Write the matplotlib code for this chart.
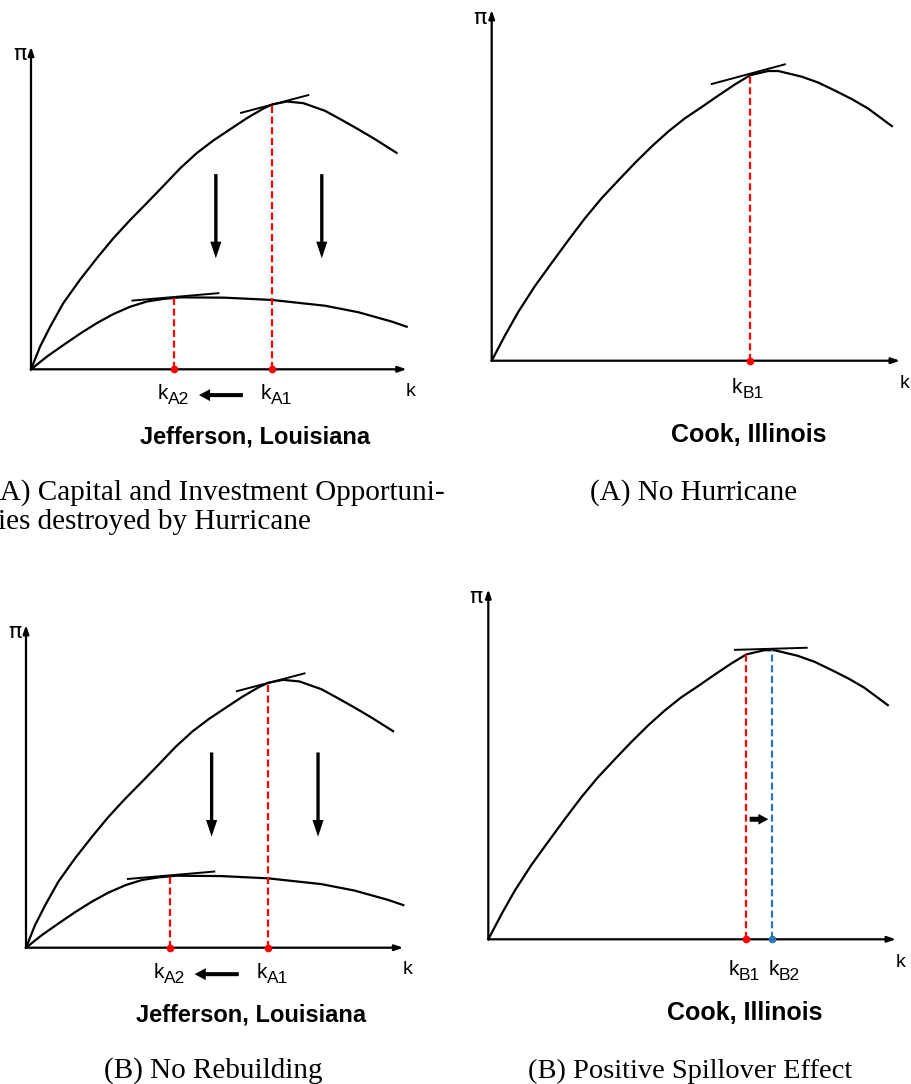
import matplotlib
matplotlib.use("Agg")
import matplotlib.pyplot as plt
from matplotlib.transforms import offset_copy

plt.rcParams['font.family'] = ['Liberation Sans', 'DejaVu Sans']

FIG_W, FIG_H = 911, 1084
RED = '#FF0000'
BLUE = '#2E75B6'

# Jefferson, Louisiana: profit (pi) against capital (k), before / after the hurricane
jeff_k_before = [0, 0.24, 0.51, 0.86, 1.30, 1.75, 2.19, 2.64, 3.08, 3.52, 3.97, 4.41,
                 4.85, 5.30, 5.74, 6.18, 6.42, 6.81, 7.25, 7.83, 8.27, 8.71, 9.16, 9.73]
jeff_pi_before = [0, 0.70, 1.32, 2.05, 2.77, 3.44, 4.06, 4.63, 5.15, 5.68, 6.23, 6.70,
                  7.09, 7.44, 7.78, 8.08, 8.21, 8.30, 8.25, 8.01, 7.73, 7.44, 7.13, 6.71]
jeff_k_after = [0, 0.42, 0.86, 1.30, 1.75, 2.19, 2.64, 3.08, 3.52, 3.97, 5.16,
                6.41, 7.83, 8.71, 9.60, 10.0]
jeff_pi_after = [0, 0.39, 0.75, 1.10, 1.43, 1.71, 1.94, 2.10, 2.18, 2.23, 2.22,
                 2.15, 1.97, 1.77, 1.48, 1.32]
k_A1, pi_A1 = 6.42, 8.21
k_A2, pi_A2 = 3.81, 2.21
tan_A1_k, tan_A1_pi = [5.59, 7.38], [7.95, 8.50]
tan_A2_k, tan_A2_pi = [2.70, 4.99], [2.13, 2.36]
shock_arrow_k = [4.92, 7.74]
shock_arrow_pi = [6.05, 3.44]

# Cook, Illinois: profit against capital
cook_k = [0, 0.33, 0.65, 1.06, 1.47, 1.88, 2.29, 2.69, 3.10, 3.51, 3.92, 4.33, 4.73,
          5.14, 5.55, 5.96, 6.33, 6.77, 7.02, 7.59, 8.00, 8.41, 8.82, 9.22, 9.80]
cook_pi = [0, 0.73, 1.39, 2.13, 2.79, 3.44, 4.07, 4.63, 5.14, 5.64, 6.11, 6.54, 6.91,
           7.23, 7.56, 7.88, 8.14, 8.26, 8.26, 8.10, 7.93, 7.70, 7.46, 7.19, 6.69]
k_B1, pi_B1 = 6.33, 8.14
k_B2, pi_B2 = 6.95, 8.27
tan_B1_k, tan_B1_pi = [5.39, 7.18], [7.89, 8.45]
tan_B2_k, tan_B2_pi = [6.05, 7.81], [8.27, 8.33]
spill_arrow_k = [6.41, 6.87]
spill_arrow_pi = 3.43

# bold region names and the captions under each panel
region_jeff = 'Jefferson, Louisiana'
region_cook = 'Cook, Illinois'
caption_a_left = ['(A) Capital and Investment Opportuni-', 'ties destroyed by Hurricane']
caption_a_right = '(A) No Hurricane'
caption_b_left = '(B) No Rebuilding'
caption_b_right = '(B) Positive Spillover Effect'

fig = plt.figure(figsize=(FIG_W / 100, FIG_H / 100), dpi=100)
fig.patch.set_facecolor('white')

# caption layer in pixel units
cap = fig.add_axes([0, 0, 1, 1])
cap.set_xlim(0, FIG_W)
cap.set_ylim(FIG_H, 0)
cap.axis('off')
serif = ['Liberation Serif', 'DejaVu Serif']
CAP_FS = 21
cap.text(-10, 499.5, caption_a_left[0], ha='left', va='baseline', fontsize=CAP_FS, family=serif)
cap.text(-10, 529, caption_a_left[1], ha='left', va='baseline', fontsize=CAP_FS, family=serif)
cap.text(693.5, 499.5, caption_a_right, ha='center', va='baseline', fontsize=CAP_FS, family=serif)
cap.text(213, 1078, caption_b_left, ha='center', va='baseline', fontsize=CAP_FS, family=serif)
cap.text(690, 1078, caption_b_right, ha='center', va='baseline', fontsize=20.5, family=serif)


def panel(ox, oy, w, h):
    """Axes whose data box (0..10, 0..10) sits at pixel origin (ox, oy)."""
    ax = fig.add_axes([ox / FIG_W, (FIG_H - oy) / FIG_H, w / FIG_W, h / FIG_H])
    ax.set_xlim(0, 10)
    ax.set_ylim(0, 10)
    ax.axis('off')
    ax.patch.set_alpha(0)
    for tip in [(10, 0), (0, 10)]:
        ax.annotate('', xy=tip, xytext=(0, 0),
                    arrowprops=dict(arrowstyle='-|>,head_length=0.5,head_width=0.17',
                                    lw=1.6, color='black', shrinkA=0, shrinkB=0,
                                    mutation_scale=10), annotation_clip=False)
    ax.text(-0.3, 9.6, 'π', ha='center', va='baseline', fontsize=16, family='DejaVu Sans')
    return ax


def k_label(ax, x, y, sub):
    """Capital label: 'k' followed by a lowered subscript."""
    ax.text(x, y, 'k', ha='left', va='baseline', fontsize=15)
    tr = offset_copy(ax.transData, fig=fig, x=10.6, y=-4.5, units='dots')
    ax.text(x, y, sub, ha='left', va='baseline', fontsize=12.5, transform=tr)


def fat_arrow(ax, start, end, hl, hw, tw):
    ax.annotate('', xy=end, xytext=start,
                arrowprops=dict(arrowstyle=f'simple,head_length={hl},head_width={hw},tail_width={tw}',
                                color='black', lw=0, shrinkA=0, shrinkB=0,
                                mutation_scale=10), annotation_clip=False)


def guide(ax, k, top, color):
    ax.plot([k, k], [0, top], color=color, lw=1.6, dashes=(3.2, 1.6), clip_on=False, zorder=3)
    ax.plot([k], [0], 'o', color=color, ms=4.5, clip_on=False, zorder=4)


def jefferson(ax, lab_y):
    ax.plot(jeff_k_before, jeff_pi_before, color='black', lw=1.6, clip_on=False,
            solid_joinstyle='round')
    ax.plot(jeff_k_after, jeff_pi_after, color='black', lw=1.6, clip_on=False,
            solid_joinstyle='round')
    ax.plot(tan_A1_k, tan_A1_pi, color='black', lw=1.4, clip_on=False)
    ax.plot(tan_A2_k, tan_A2_pi, color='black', lw=1.4, clip_on=False)
    guide(ax, k_A1, pi_A1, RED)
    guide(ax, k_A2, pi_A2, RED)
    for xk in shock_arrow_k:
        fat_arrow(ax, (xk, shock_arrow_pi[0]), (xk, shock_arrow_pi[1]), 1.2, 0.8, 0.24)
    fat_arrow(ax, (5.64, lab_y + 0.13), (4.47, lab_y + 0.13), 0.8, 0.86, 0.29)
    k_label(ax, 3.37, lab_y, 'A2')
    k_label(ax, 6.10, lab_y, 'A1')
    ax.text(10.1, -0.82, 'k', ha='center', va='baseline', fontsize=14)
    ax.text(5.97, -2.30, region_jeff, ha='center', va='baseline', fontsize=17, fontweight='bold')


def cook(ax, spill, lab_y):
    ax.plot(cook_k, cook_pi, color='black', lw=1.6, clip_on=False, solid_joinstyle='round')
    if spill:
        ax.plot(tan_B2_k, tan_B2_pi, color='black', lw=1.4, clip_on=False)
        guide(ax, k_B1, pi_B1, RED)
        guide(ax, k_B2, pi_B2, BLUE)
        fat_arrow(ax, (spill_arrow_k[0], spill_arrow_pi), (spill_arrow_k[1], spill_arrow_pi),
                  0.72, 0.77, 0.36)
        k_label(ax, 5.89, lab_y, 'B1')
        k_label(ax, 6.87, lab_y, 'B2')
    else:
        ax.plot(tan_B1_k, tan_B1_pi, color='black', lw=1.4, clip_on=False)
        guide(ax, k_B1, pi_B1, RED)
        k_label(ax, 5.88, lab_y, 'B1')
    ax.text(10.1, -0.79, 'k', ha='center', va='baseline', fontsize=14)
    ax.text(6.29, -2.31, region_cook, ha='center', va='baseline', fontsize=18, fontweight='bold')


ax1 = panel(31, 369.3, 375.7, 322.6)
jefferson(ax1, -0.93)
ax2 = panel(491.7, 360.7, 408.3, 350.7)
cook(ax2, False, -0.93)
ax3 = panel(26, 947.7, 377.3, 322.7)
jefferson(ax3, -0.95)
ax4 = panel(488.3, 939.3, 407.7, 350.0)
cook(ax4, True, -1.02)

fig.savefig('out.png', dpi=100, facecolor='white')
